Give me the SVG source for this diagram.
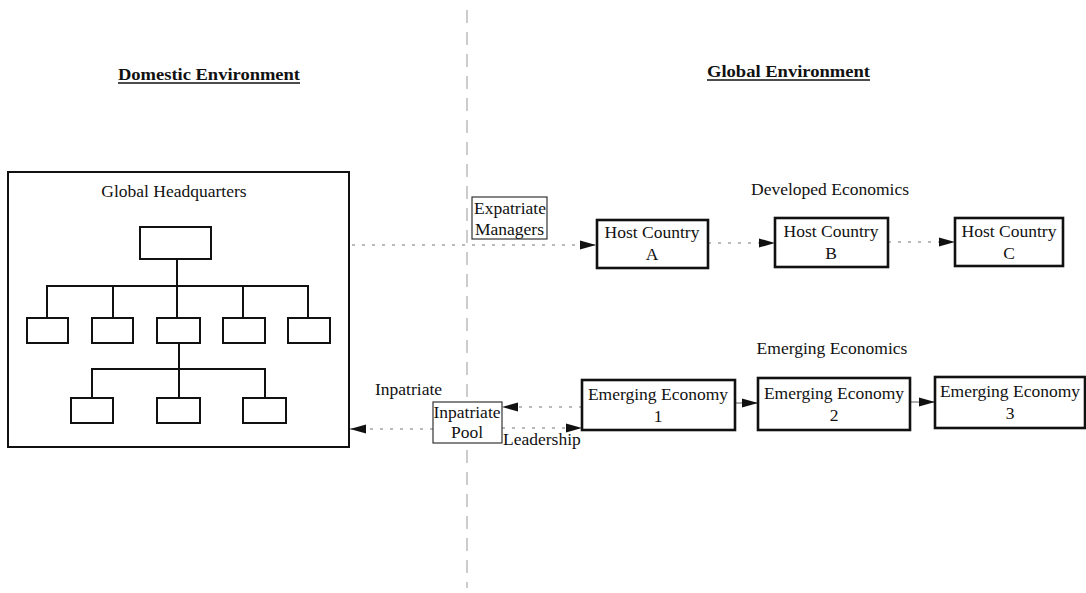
<svg xmlns="http://www.w3.org/2000/svg" width="1086" height="593" viewBox="0 0 1086 593">
<style>
text{font-family:"Liberation Serif","Times New Roman",serif;font-size:17.5px;fill:#111}
.h{font-weight:bold;font-size:16px}
.c{text-anchor:middle}
.b2{fill:#fff;stroke:#111;stroke-width:2}
.b3{fill:#fff;stroke:#111;stroke-width:2.6}
.b1{fill:#fff;stroke:#222;stroke-width:1.1}
.t{stroke:#111;stroke-width:2;fill:none}
.dot{stroke:#777;stroke-width:1.2;stroke-dasharray:3 7;fill:none}
.sh{stroke:#777;stroke-width:1.2;fill:none}
</style>
<defs>
<marker id="ah" markerUnits="userSpaceOnUse" markerWidth="17" markerHeight="11" refX="16" refY="5.5" orient="auto">
<path d="M0,1 L16,5.5 L0,10 z" fill="#111"/>
</marker>
</defs>
<g id="divider"><line x1="467" y1="10" x2="467" y2="588" stroke="#999" stroke-width="1" stroke-dasharray="13 9"/></g>
<g id="headings">
<text class="h" x="118" y="80" textLength="182" lengthAdjust="spacingAndGlyphs">Domestic Environment</text>
<line x1="118" y1="83" x2="300" y2="83" stroke="#111" stroke-width="1.3"/>
<text class="h" x="707" y="77" textLength="163" lengthAdjust="spacingAndGlyphs">Global Environment</text>
<line x1="707" y1="80" x2="870" y2="80" stroke="#111" stroke-width="1.3"/>
<text class="c" x="830" y="195">Developed Economics</text>
<text class="c" x="832" y="354">Emerging Economics</text>
</g>
<g id="hq">
<rect class="b2" x="8" y="172" width="341" height="275"/>
<text class="c" x="174" y="197">Global Headquarters</text>
<path class="t" d="M177,259V286M47,317V286H308V317M113,286V317M177,286V317M243,286V317M179,343V369M92,398V369H265V398M179,369V398"/>
<rect class="b2" x="140" y="227" width="71" height="32"/>
<rect class="b2" x="27" y="318" width="41" height="25"/>
<rect class="b2" x="92" y="318" width="41" height="25"/>
<rect class="b2" x="157" y="318" width="43" height="25"/>
<rect class="b2" x="223" y="318" width="42" height="25"/>
<rect class="b2" x="288" y="318" width="42" height="25"/>
<rect class="b2" x="71" y="398" width="42" height="25"/>
<rect class="b2" x="157" y="398" width="43" height="25"/>
<rect class="b2" x="243" y="398" width="43" height="25"/>
</g>
<g id="connectors">
<line class="dot" x1="352" y1="245" x2="596" y2="245" marker-end="url(#ah)"/>
<line class="dot" x1="708" y1="243" x2="775" y2="243" marker-end="url(#ah)"/>
<line class="dot" x1="888" y1="242" x2="955" y2="242" marker-end="url(#ah)"/>
<line class="sh" x1="735" y1="403" x2="758" y2="403" marker-end="url(#ah)"/>
<line class="sh" x1="910" y1="402" x2="935" y2="402" marker-end="url(#ah)"/>
<line class="dot" x1="582" y1="407" x2="502" y2="407" marker-end="url(#ah)"/>
<line class="dot" x1="502" y1="428" x2="582" y2="428" marker-end="url(#ah)"/>
<line class="dot" x1="433" y1="429" x2="350" y2="429" marker-end="url(#ah)"/>
</g>
<g id="expatriate">
<rect class="b1" x="472" y="197" width="75" height="42"/>
<text x="474" y="214">Expatriate</text>
<text x="475" y="235">Managers</text>
</g>
<g id="hostA"><rect class="b3" x="597" y="220" width="111" height="48"/><text class="c" x="652" y="238">Host Country</text><text class="c" x="652" y="260">A</text></g>
<g id="hostB"><rect class="b3" x="775" y="218" width="113" height="49"/><text class="c" x="831" y="237">Host Country</text><text class="c" x="831" y="259">B</text></g>
<g id="hostC"><rect class="b3" x="955" y="218" width="108" height="48"/><text class="c" x="1009" y="237">Host Country</text><text class="c" x="1009" y="259">C</text></g>
<g id="em1"><rect class="b3" x="582" y="380" width="153" height="50"/><text class="c" x="658" y="400">Emerging Economy</text><text class="c" x="658" y="422">1</text></g>
<g id="em2"><rect class="b3" x="758" y="378" width="152" height="52"/><text class="c" x="834" y="399">Emerging Economy</text><text class="c" x="834" y="421">2</text></g>
<g id="em3"><rect class="b3" x="935" y="377" width="150" height="51"/><text class="c" x="1010" y="397">Emerging Economy</text><text class="c" x="1010" y="419">3</text></g>
<g id="pool">
<rect class="b1" x="433" y="402" width="69" height="41"/>
<text class="c" x="467" y="418">Inpatriate</text>
<text class="c" x="467" y="438">Pool</text>
</g>
<g id="labels">
<text x="375" y="395">Inpatriate</text>
<text x="503" y="445">Leadership</text>
</g>
</svg>
